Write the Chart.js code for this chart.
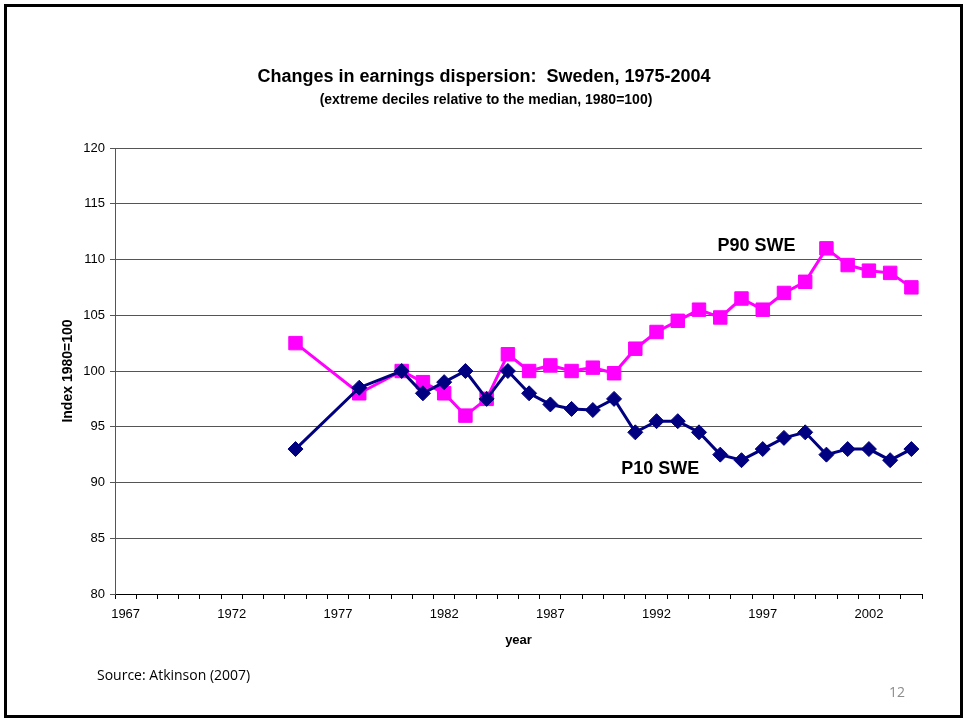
<!DOCTYPE html>
<html>
<head>
<meta charset="utf-8">
<script src="https://cdn.jsdelivr.net/npm/chart.js@4"></script>
<style>
  html, body { margin: 0; padding: 0; background: #fff; }
  #wrap { position: relative; width: 967px; height: 725px; }
</style>
</head>
<body>
<div id="wrap"><canvas id="chart" width="967" height="725"></canvas></div>
<script>
// Earnings dispersion, Sweden (index 1980=100)
const years = [];
for (let y = 1967; y <= 2004; y++) years.push(String(y));

const dataYears = [1975, 1978, 1980, 1981, 1982, 1983, 1984, 1985, 1986, 1987, 1988, 1989, 1990,
                   1991, 1992, 1993, 1994, 1995, 1996, 1997, 1998, 1999, 2000, 2001, 2002, 2003, 2004];
const p10Values = [93, 98.5, 100, 98, 99, 100, 97.5, 100, 98, 97, 96.6, 96.5, 97.5,
                   94.5, 95.5, 95.5, 94.5, 92.5, 92, 93, 94, 94.5, 92.5, 93, 93, 92, 93];
const p90Values = [102.5, 98, 100, 99, 98, 96, 97.5, 101.5, 100, 100.5, 100, 100.3, 99.8,
                   102, 103.5, 104.5, 105.5, 104.8, 106.5, 105.5, 107, 108, 111, 109.5, 109, 108.8, 107.5];

const yTicks = [80, 85, 90, 95, 100, 105, 110, 115, 120];
const labelEvery = 5;

const FONT = "'Liberation Sans', Arial, sans-serif";

// spread the series over the full year axis (gaps where no data)
function toSeries(vals) {
  return years.map(y => {
    const i = dataYears.indexOf(Number(y));
    return i < 0 ? null : vals[i];
  });
}

// slide decorations: frame, titles, line labels, source, page number
const slidePlugin = {
  id: "slide",
  afterDraw(chart) {
    const c = chart.ctx;
    const xs = chart.scales.x, ys = chart.scales.y;
    c.save();
    c.strokeStyle = "#000";
    c.lineWidth = 3;
    c.strokeRect(5.5, 5.5, 956, 711);

    c.fillStyle = "#000";
    c.textAlign = "center";
    c.textBaseline = "alphabetic";
    c.font = "bold 18px " + FONT;
    c.fillText("Changes in earnings dispersion:  Sweden, 1975-2004", 484, 82);
    c.font = "bold 14px " + FONT;
    c.fillText("(extreme deciles relative to the median, 1980=100)", 486, 104);

    c.font = "bold 18px " + FONT;
    c.textBaseline = "middle";
    c.fillText("P90 SWE", xs.getPixelForValue(years.indexOf("1996")) + 15, ys.getPixelForValue(111.2));
    c.fillText("P10 SWE", xs.getPixelForValue(years.indexOf("1991")) + 25, ys.getPixelForValue(91.2));

    c.textAlign = "left";
    c.textBaseline = "alphabetic";
    c.font = "14px 'Open Sans', 'Noto Sans', sans-serif";
    c.fillStyle = "#000";
    c.fillText("Source: Atkinson (2007)", 97, 680);
    c.fillStyle = "#8c8c8c";
    c.fillText("12", 889, 697);
    c.restore();
  }
};

new Chart(document.getElementById("chart"), {
  type: "line",
  data: {
    labels: years,
    datasets: [
      {
        label: "P10 SWE",
        data: toSeries(p10Values),
        borderColor: "#000080",
        backgroundColor: "#000080",
        borderWidth: 3,
        pointStyle: "rectRot",
        pointRadius: 7.5,
        pointBorderWidth: 1,
        spanGaps: true,
        tension: 0
      },
      {
        label: "P90 SWE",
        data: toSeries(p90Values),
        borderColor: "#ff00ff",
        backgroundColor: "#ff00ff",
        borderWidth: 3,
        pointStyle: "rect",
        pointRadius: 9.5,
        pointBorderWidth: 1,
        spanGaps: true,
        tension: 0
      }
    ]
  },
  options: {
    responsive: false,
    animation: false,
    layout: { padding: { left: 52, right: 45, top: 148, bottom: 71 } },
    plugins: {
      legend: { display: false },
      title: { display: false },
      tooltip: { enabled: false }
    },
    scales: {
      x: {
        type: "category",
        offset: true,
        afterFit(s) { s.height = 60; },
        grid: { display: true, drawOnChartArea: false, drawTicks: true, tickLength: 5, offset: true, color: "#000" },
        border: { color: "#000", width: 1 },
        ticks: {
          autoSkip: false,
          maxRotation: 0,
          padding: 8,
          color: "#000",
          font: { family: FONT, size: 13 },
          callback(v, i) { return i % labelEvery === 0 ? years[i] : ""; }
        },
        title: {
          display: true,
          text: "year",
          color: "#000",
          padding: { top: 0, bottom: 6 },
          font: { family: FONT, size: 13, weight: "bold" }
        }
      },
      y: {
        min: 80,
        max: 120,
        afterFit(s) { s.width = 63; },
        afterBuildTicks(s) { s.ticks = yTicks.map(v => ({ value: v })); },
        grid: { color: "#555", lineWidth: 1, tickLength: 5, drawTicks: true },
        border: { color: "#555", width: 1 },
        ticks: {
          padding: 5,
          color: "#000",
          font: { family: FONT, size: 13 }
        },
        title: {
          display: true,
          text: "Index 1980=100",
          color: "#000",
          padding: { top: 8, bottom: 0 },
          font: { family: FONT, size: 14, weight: "bold" }
        }
      }
    }
  },
  plugins: [slidePlugin]
});
</script>
</body>
</html>
